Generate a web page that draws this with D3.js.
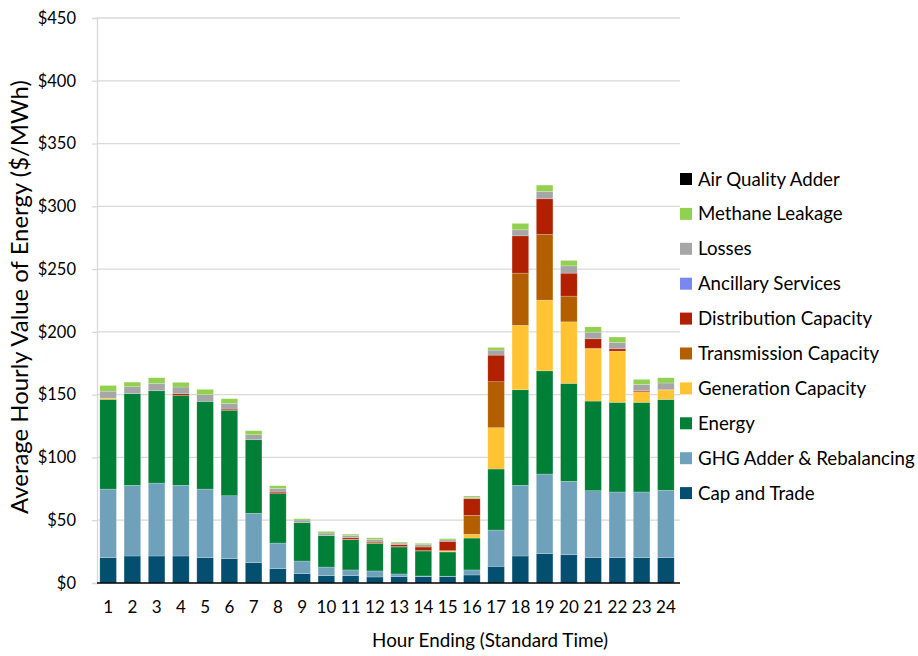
<!DOCTYPE html>
<html><head><meta charset="utf-8">
<script src="https://cdn.jsdelivr.net/npm/d3@7"></script>
<style>body{margin:0;background:#fff}svg{display:block}text{font-family:Lato,"Open Sans",sans-serif;fill:#000}</style>
</head><body><svg id="c" width="918" height="656"></svg>
<script>
const hours = ["1","2","3","4","5","6","7","8","9","10","11","12","13","14","15","16","17","18","19","20","21","22","23","24"];
const seriesNames = ["Cap and Trade","GHG Adder & Rebalancing","Energy","Generation Capacity","Transmission Capacity","Distribution Capacity","Ancillary Services","Losses","Methane Leakage","Air Quality Adder"];
const capTrade   = [20.2,21.5,21.5,21.5,20.2,19.4,16.2,11.4,7.4,5.8,5.8,4.8,5.1,5.1,5.1,6.4,13.3,21.5,23.4,22.5,20.2,20.2,20.2,20.2];
const ghgAdder   = [54.6,56.3,58.1,56.3,54.6,50.1,39.3,20.4,10.1,6.9,4.6,4.8,2.1,0.5,0.3,4.0,28.9,56.3,63.4,58.5,53.3,52.3,52.3,53.6];
const energy     = [71.5,73.0,73.5,71.6,69.9,68.0,58.6,39.3,30.5,25.0,24.1,22.0,21.5,19.9,19.3,25.4,48.6,76.1,82.2,78.0,71.4,71.4,71.4,72.4];
const genCap     = [1.0,0,0,0,0,0,0,0,0,0,0,0,0,0,0.8,3.0,32.9,51.3,56.3,49.0,41.6,40.8,8.4,7.5];
const transCap   = [0,0,0,0,0,0,0,0,0,0,0.5,0.5,0.3,0.3,0.3,15.1,36.6,41.6,52.3,20.5,0.5,0,0,0];
const distCap    = [0,0,0,1.3,0,1.0,0,1.3,0,0,1.1,1.1,1.6,2.9,7.4,13.2,21.2,29.7,28.4,18.3,7.5,1.8,0.8,0.3];
const ancillary  = [0,0,0,0,0,0,0,0,0,0,0,0,0,0,0,0,0,0,0,0,0,0,0,0];
const losses     = [5.5,5.5,5.9,5.4,5.3,4.6,4.0,3.0,2.2,2.1,1.8,1.5,1.2,1.8,1.1,1.1,4.0,4.8,5.9,5.8,5.3,5.1,5.1,5.3];
const methane    = [4.5,3.7,4.5,3.7,4.2,3.7,3.2,2.1,1.0,1.3,1.0,1.3,0.8,1.1,1.0,1.1,2.1,5.1,5.0,4.3,4.2,4.3,4.0,4.2];
const airQuality = [0,0,0,0,0,0,0,0,0,0,0,0,0,0,0,0,0,0,0,0,0,0,0,0];
const yTicks = [0,50,100,150,200,250,300,350,400,450];
const colors = ["#044f70","#6fa2ba","#007f36","#ffc333","#b35f00","#b12000","#7b87f0","#a6a6a6","#92d050","#000000"];

const seriesVals = [capTrade,ghgAdder,energy,genCap,transCap,distCap,ancillary,losses,methane,airQuality];
const rows = hours.map((h,i)=>{const r={hour:h};seriesNames.forEach((s,j)=>r[s]=seriesVals[j][i]);return r;});
const stack = d3.stack().keys(seriesNames)(rows);

const svg = d3.select("#c");
const x = d3.scaleBand().domain(hours).range([96,678]).paddingInner(0.315).paddingOuter(0.1575);
const y = d3.scaleLinear().domain([0,450]).range([583,18]);

function fitText(sel, target){
  const n = sel.node(); const fs = parseFloat(sel.attr("font-size"));
  const w = n.getComputedTextLength(); if (w>0) sel.attr("font-size", fs*target/w);
}

// gridlines
svg.append("g").selectAll("line").data(yTicks.filter(t=>t>0)).join("line")
  .attr("x1",97).attr("x2",680).attr("y1",d=>y(d)).attr("y2",d=>y(d))
  .attr("stroke","#d9d9d9").attr("stroke-width",1.3);

// y axis
const ya = svg.append("g").attr("transform","translate(97,0)")
  .call(d3.axisLeft(y).tickValues(yTicks).tickFormat(d=>"$"+d).tickSize(5).tickPadding(16));
ya.select(".domain").attr("stroke","#d9d9d9").attr("stroke-width",1.3);
ya.selectAll(".tick line").attr("stroke","#d9d9d9").attr("stroke-width",1.3);
ya.selectAll("text").attr("font-size",16.5).attr("font-family","Lato").attr("fill","#000");

// bars
svg.append("g").selectAll("g").data(stack).join("g").attr("fill",(d,i)=>colors[i])
  .selectAll("rect").data(d=>d).join("rect")
  .attr("x",d=>x(d.data.hour)).attr("width",x.bandwidth())
  .attr("y",d=>y(d[1])).attr("height",d=>Math.max(0,y(d[0])-y(d[1])))
  .attr("stroke","#ffffff").attr("stroke-opacity",0.35).attr("stroke-width",0.6);

// x axis
const xa = svg.append("g").attr("transform","translate(0,583)")
  .call(d3.axisBottom(x).tickSize(0).tickPadding(18));
xa.select(".domain").attr("stroke","#000").attr("stroke-width",1.3).attr("d","M97,0H680");
xa.selectAll("text").attr("font-size",17).attr("font-family","Lato").attr("fill","#000");

// axis titles
const yt = svg.append("text").attr("transform","translate(28,297) rotate(-90)").attr("text-anchor","middle")
  .attr("font-size",21.5).text("Average Hourly Value of Energy ($/MWh)");
fitText(yt, 434);
const xt = svg.append("text").attr("x",490).attr("y",647).attr("text-anchor","middle")
  .attr("font-size",19).text("Hour Ending (Standard Time)");
fitText(xt, 236);

// legend
const legOrder = seriesNames.map((s,i)=>i).reverse();
const lg = svg.append("g").selectAll("g").data(legOrder).join("g")
  .attr("transform",(d,i)=>`translate(680,${179+i*34.9})`);
lg.append("rect").attr("x",0).attr("y",-6).attr("width",12).attr("height",12).attr("fill",d=>colors[d]);
lg.append("text").attr("x",18).attr("y",0).attr("dy","0.35em").attr("font-size",18.7).text(d=>seriesNames[d]);
</script></body></html>
